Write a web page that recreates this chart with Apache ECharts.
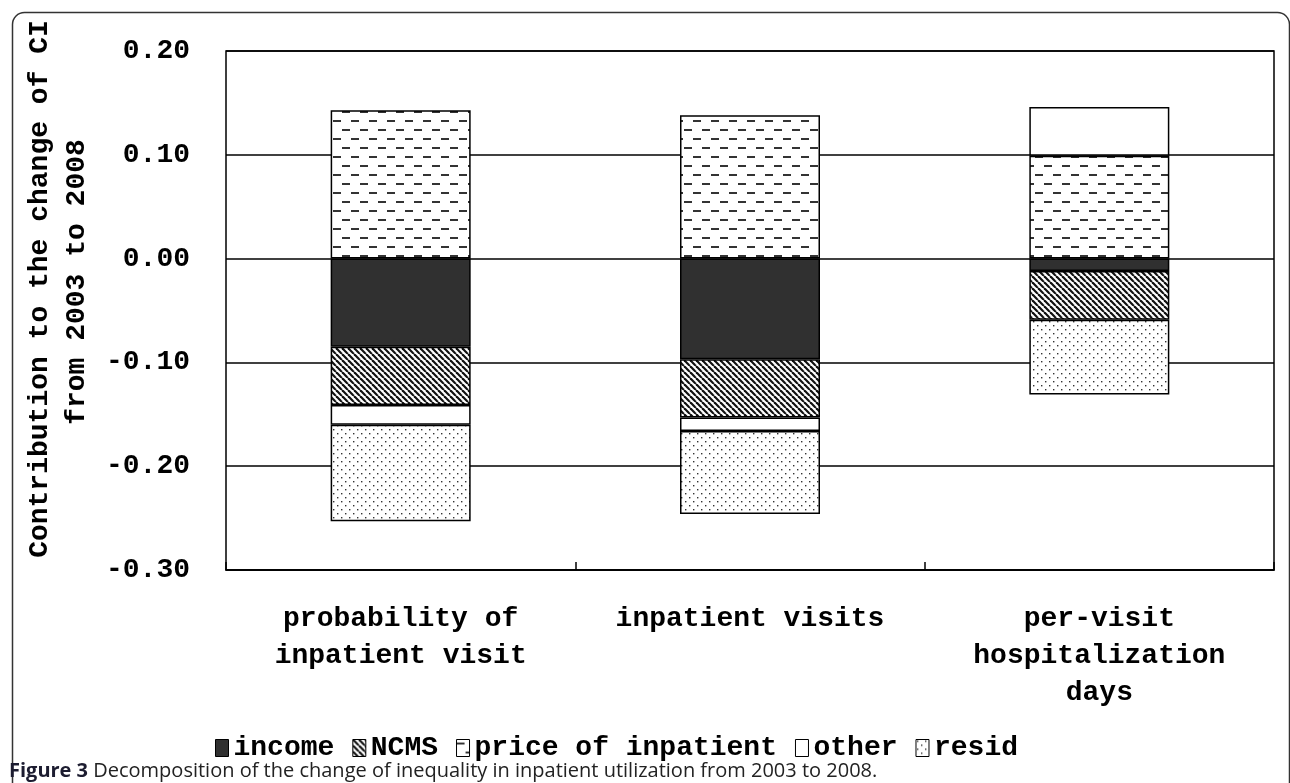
<!DOCTYPE html>
<html>
<head>
<meta charset="utf-8">
<script src="https://cdn.jsdelivr.net/npm/echarts@6/dist/echarts.min.js"></script>
<style>
html,body{margin:0;padding:0;background:#fff;}
#chart{width:1290px;height:783px;}
</style>
</head>
<body>
<div id="chart"></div>
<script>
// ---- data ----
const categories = ['probability of\ninpatient visit', 'inpatient visits', 'per-visit\nhospitalization\ndays'];
const seriesNames = ['income', 'NCMS', 'price of inpatient', 'other', 'resid'];
const income = [-0.085, -0.097, -0.012];
const ncms = [-0.056, -0.056, -0.047];
const price = [0.143, 0.138, 0.099];
const other = [-0.019, -0.013, 0.047];
const resid = [-0.093, -0.080, -0.072];
const yTicks = { min: -0.3, max: 0.2, interval: 0.1 };
const yTitle = ['Contribution to the change of CI', 'from 2003 to 2008'];
const caption = 'Decomposition of the change of inequality in inpatient utilization from 2003 to 2008.';

// ---- patterns ----
function makeTile(w, h, draw) {
  const c = document.createElement('canvas');
  c.width = w; c.height = h;
  const ctx = c.getContext('2d');
  ctx.fillStyle = '#fff';
  ctx.fillRect(0, 0, w, h);
  draw(ctx);
  return { image: c, repeat: 'repeat' };
}
const stripePat = makeTile(6, 6, ctx => {
  ctx.strokeStyle = '#111';
  ctx.lineWidth = 2.2;
  for (const k of [-6, 0, 6]) {
    ctx.beginPath(); ctx.moveTo(k, 0); ctx.lineTo(k + 6, 6); ctx.stroke();
  }
});
const dashPat = makeTile(18, 18, ctx => {
  ctx.fillStyle = '#333';
  ctx.fillRect(0, 3, 8, 2);
  ctx.fillRect(9, 12, 8, 2);
});
const dotPat = makeTile(8, 8, ctx => {
  ctx.fillStyle = '#333';
  ctx.fillRect(1, 1, 1.4, 1.4);
  ctx.fillRect(5, 5, 1.4, 1.4);
});

const FONT = '"Liberation Mono", "DejaVu Sans Mono", monospace';
const FS = 28;
const colors = ['#303030', stripePat, dashPat, '#ffffff', dotPat];
const values = [income, ncms, price, other, resid];

const chart = echarts.init(document.getElementById('chart'));
chart.setOption({
  animation: false,
  backgroundColor: '#fff',
  grid: { left: 226, right: 16, top: 51, bottom: 213, show: true, borderColor: '#000', borderWidth: 1.5, backgroundColor: 'transparent' },
  title: {
    left: 4, top: 756,
    text: '{b|Figure 3} ' + caption,
    textStyle: {
      fontFamily: '"Open Sans", "Noto Sans", sans-serif', fontSize: 20, fontWeight: 'normal', color: '#222',
      rich: { b: { fontFamily: '"Open Sans", "Noto Sans", sans-serif', fontSize: 20, fontWeight: 'bold', color: '#1c1c30' } }
    }
  },
  legend: {
    left: 210, top: 729,
    itemWidth: 13, itemHeight: 17, itemGap: 18,
    icon: 'rect',
    data: seriesNames,
    itemStyle: { borderColor: '#000', borderWidth: 1 },
    textStyle: { fontFamily: FONT, fontWeight: 'bold', fontSize: FS, color: '#000' }
  },
  xAxis: {
    type: 'category',
    data: categories,
    axisLine: { show: true, onZero: false, lineStyle: { color: '#000', width: 1.5 } },
    axisTick: { show: true, inside: true, length: 8, lineStyle: { color: '#000', width: 1.5 } },
    axisLabel: { margin: 30, fontFamily: FONT, fontWeight: 'bold', fontSize: FS, lineHeight: 37, color: '#000', interval: 0 },
    splitLine: { show: false }
  },
  yAxis: {
    type: 'value',
    min: yTicks.min, max: yTicks.max, interval: yTicks.interval,
    axisLine: { show: false },
    axisTick: { show: false },
    axisLabel: { margin: 36, fontFamily: FONT, fontWeight: 'bold', fontSize: FS, color: '#000', formatter: v => v.toFixed(2) },
    splitLine: { show: true, lineStyle: { color: '#000', width: 1.5 } }
  },
  graphic: [
    { type: 'rect', left: 10, top: 10, shape: { width: 1277, height: 800, r: [12, 12, 0, 0] }, style: { fill: 'none', stroke: '#333', lineWidth: 1.5 }, z: -1 },
    { type: 'text', x: 40, y: 289, rotation: Math.PI / 2, style: { text: yTitle[0], fontFamily: FONT, fontWeight: 'bold', fontSize: FS, fill: '#000', textAlign: 'center', textVerticalAlign: 'middle' } },
    { type: 'text', x: 77, y: 282, rotation: Math.PI / 2, style: { text: yTitle[1], fontFamily: FONT, fontWeight: 'bold', fontSize: FS, fill: '#000', textAlign: 'center', textVerticalAlign: 'middle' } }
  ],
  series: seriesNames.map((name, i) => ({
    name: name,
    type: 'bar',
    stack: 'total',
    barWidth: 140,
    data: values[i],
    itemStyle: { color: colors[i], borderColor: '#000', borderWidth: 1.5 },
    emphasis: { disabled: true }
  }))
});
</script>
</body>
</html>
